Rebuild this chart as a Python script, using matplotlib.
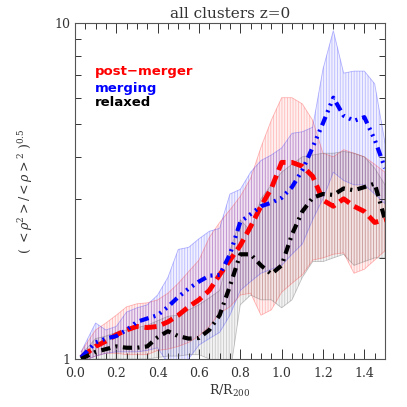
import matplotlib
matplotlib.use("Agg")
import matplotlib.pyplot as plt
from matplotlib.ticker import FixedLocator, NullFormatter

plt.rcParams['font.family'] = 'DejaVu Serif'
plt.rcParams['mathtext.fontset'] = 'dejavuserif'
plt.rcParams['hatch.linewidth'] = 0.6

# radius bins (R/R200)
r = [0.03, 0.10, 0.15, 0.20, 0.25, 0.30, 0.35, 0.40, 0.45, 0.50,
     0.55, 0.60, 0.65, 0.70, 0.75, 0.80, 0.85, 0.90, 0.95, 1.00,
     1.05, 1.10, 1.15, 1.20, 1.25, 1.30, 1.35, 1.40, 1.45, 1.50]

# post-merger
post_mean = [1.01, 1.09, 1.13, 1.18, 1.22, 1.25, 1.24, 1.25, 1.29, 1.35,
             1.43, 1.50, 1.60, 1.78, 1.97, 2.18, 2.48, 2.85, 3.22, 3.85,
             3.85, 3.75, 3.50, 2.97, 2.85, 3.00, 2.85, 2.75, 2.55, 2.60]
post_hi = [1.05, 1.22, 1.28, 1.35, 1.43, 1.46, 1.47, 1.50, 1.57, 1.68,
           1.82, 1.97, 2.30, 2.55, 2.78, 3.05, 3.45, 4.27, 5.14, 6.00,
           6.00, 5.75, 5.14, 4.10, 4.00, 4.20, 4.10, 4.00, 3.80, 3.60]
post_lo = [0.98, 1.02, 1.04, 1.04, 1.03, 1.03, 1.03, 1.06, 1.07, 1.09,
           1.12, 1.17, 1.25, 1.37, 1.43, 1.55, 1.57, 1.35, 1.40, 1.58,
           1.68, 1.78, 1.97, 2.00, 2.05, 2.07, 1.80, 1.85, 1.97, 2.10]

# merging
merg_mean = [1.01, 1.12, 1.15, 1.17, 1.22, 1.29, 1.32, 1.35, 1.43, 1.53,
             1.62, 1.70, 1.77, 1.78, 2.05, 2.56, 2.70, 2.85, 2.92, 3.02,
             3.25, 3.65, 4.27, 5.04, 6.00, 5.30, 5.12, 5.25, 4.50, 3.70]
merg_hi = [1.05, 1.28, 1.22, 1.25, 1.38, 1.42, 1.45, 1.55, 1.75, 2.12,
           2.15, 2.28, 2.40, 2.45, 3.10, 3.20, 3.60, 3.90, 4.05, 4.25,
           4.70, 4.75, 4.90, 7.30, 9.50, 7.10, 7.20, 7.20, 6.60, 4.40]
merg_lo = [0.98, 1.02, 1.04, 1.05, 1.05, 1.05, 1.06, 1.08, 0.97, 0.95,
           1.00, 1.10, 1.15, 1.20, 1.35, 1.60, 1.70, 1.80, 1.85, 1.90,
           2.05, 2.20, 2.60, 3.00, 3.60, 3.40, 3.30, 3.30, 3.10, 2.90]

# relaxed
relx_mean = [1.00, 1.05, 1.07, 1.09, 1.08, 1.08, 1.09, 1.16, 1.21, 1.17,
             1.15, 1.155, 1.22, 1.35, 1.65, 2.05, 2.05, 1.90, 1.79, 1.90,
             2.35, 2.75, 3.02, 3.10, 3.08, 3.22, 3.18, 3.25, 3.33, 2.60]
relx_hi = [1.03, 1.15, 1.17, 1.20, 1.22, 1.24, 1.26, 1.30, 1.34, 1.35,
           1.40, 1.45, 1.52, 1.60, 2.10, 2.60, 2.40, 3.00, 3.30, 3.60,
           3.80, 4.00, 4.05, 4.10, 4.10, 4.15, 4.10, 4.00, 3.70, 3.30]
relx_lo = [0.98, 1.00, 1.00, 1.00, 1.00, 1.00, 1.00, 1.01, 1.02, 1.02,
           1.03, 1.03, 1.00, 0.98, 0.90, 1.45, 1.55, 1.50, 1.50, 1.42,
           1.50, 1.75, 1.95, 1.95, 2.00, 2.05, 1.90, 1.95, 2.00, 2.00]

labels = ['post\u2212merger', 'merging', 'relaxed']

fig = plt.figure(figsize=(4.07, 4.07), dpi=100)
ax = fig.add_axes([0.184, 0.118, 0.762, 0.825])

bands = [(post_lo, post_hi, (1, 0.2, 0.2)),
         (merg_lo, merg_hi, (0.2, 0.2, 1)),
         (relx_lo, relx_hi, (0.35, 0.35, 0.35))]
for lo, hi, c in bands:
    ax.fill_between(r, lo, hi, facecolor=c + (0.07,), edgecolor=c + (0.28,),
                    hatch='||||||', linewidth=0)
    ax.plot(r, lo, color=c, alpha=0.35, lw=0.6)
    ax.plot(r, hi, color=c, alpha=0.35, lw=0.6)

ax.plot(r, post_mean, color='red', lw=3.5, ls=(0, (2.5, 1.2)))
ax.plot(r, merg_mean, color='blue', lw=3.0, ls=(0, (2.2, 1.2, 0.5, 1.2, 0.5, 1.2, 0.5, 1.2)))
ax.plot(r, relx_mean, color='black', lw=3.0, ls=(0, (2.2, 1.3, 0.5, 1.3)))

ax.set_yscale('log')
ax.set_xlim(0, 1.5)
ax.set_ylim(1, 10)
ax.set_xticks([0.0, 0.2, 0.4, 0.6, 0.8, 1.0, 1.2, 1.4])
ax.set_xticklabels(['0.0', '0.2', '0.4', '0.6', '0.8', '1.0', '1.2', '1.4'])
ax.xaxis.set_minor_locator(FixedLocator([i * 0.05 for i in range(31)]))
ax.yaxis.set_major_locator(FixedLocator([1, 10]))
ax.yaxis.set_minor_locator(FixedLocator([2, 3, 4, 5, 6, 7, 8, 9]))
ax.set_yticklabels(['1', '10'])
ax.yaxis.set_minor_formatter(NullFormatter())
ax.tick_params(which='both', direction='in', top=True, right=True,
               labelsize=9, colors='#333333', width=0.7)
ax.tick_params(which='major', length=7)
ax.tick_params(which='minor', length=4)
ax.tick_params(axis='x', which='major', pad=6)
for s in ax.spines.values():
    s.set_linewidth(0.8)
    s.set_color('#555555')

ax.set_title('all clusters z=0', fontsize=11, color='#333333', pad=4)
ax.set_xlabel(r'R/R$_{200}$', fontsize=9, color='#333333', labelpad=2)
ax.set_ylabel(r'$(\ <\rho^2>/<\rho>^2\ )^{0.5}$',
              fontsize=9, color='#333333', labelpad=14)

for txt, c, yy in zip(labels, ['red', 'blue', 'black'], [0.845, 0.795, 0.752]):
    ax.text(0.065, yy, txt, color=c, transform=ax.transAxes, fontsize=9.5,
            fontweight='bold', family='DejaVu Sans')

fig.savefig('out.png', dpi=100)
